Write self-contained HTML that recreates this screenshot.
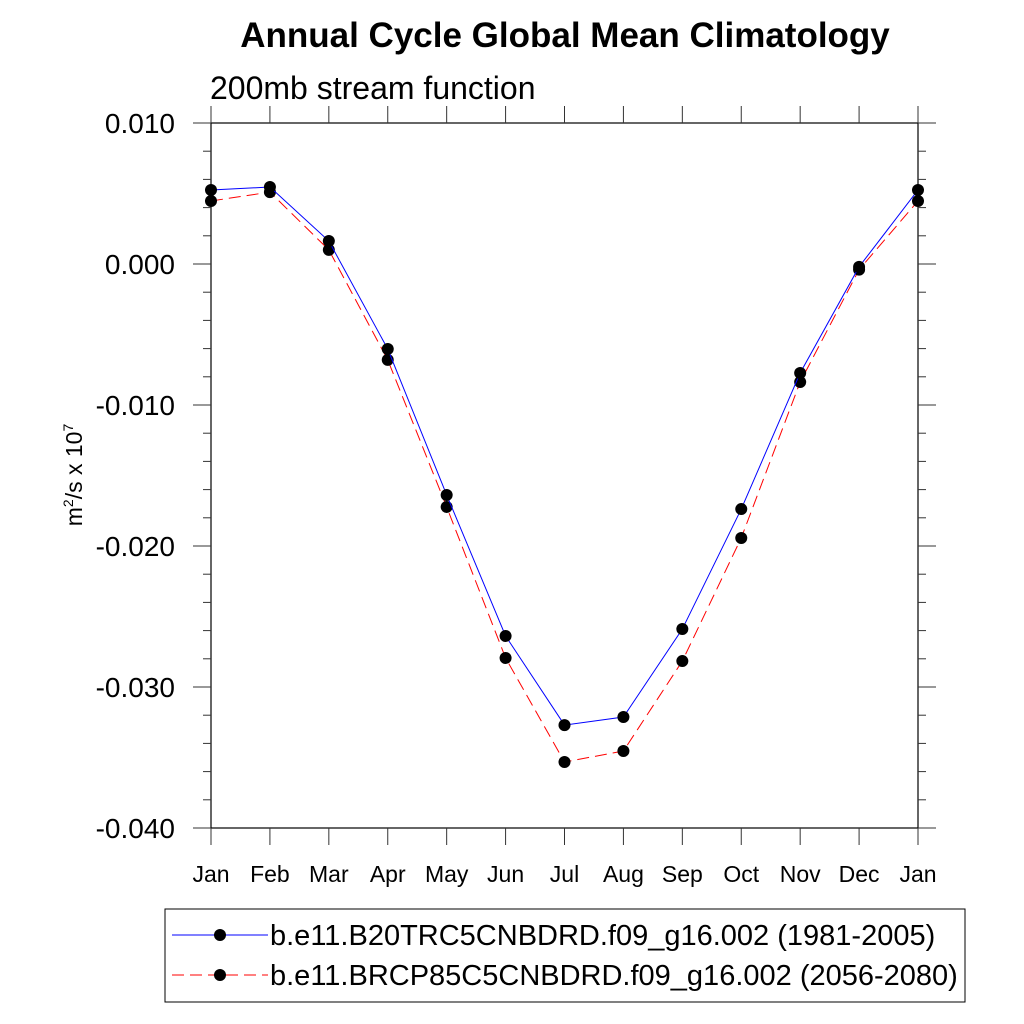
<!DOCTYPE html>
<html><head><meta charset="utf-8"><style>body{margin:0;background:#fff}svg{display:block;font-family:"Liberation Sans",sans-serif}</style></head>
<body>
<svg id="chart" width="1024" height="1024" viewBox="0 0 1024 1024">
<text x="565" y="47" text-anchor="middle" font-size="35" font-weight="bold">Annual Cycle Global Mean Climatology</text>
<text x="210" y="99" font-size="32">200mb stream function</text>
<text transform="translate(82,475) rotate(-90)" text-anchor="middle" font-size="23">m<tspan dy="-9" font-size="14">2</tspan><tspan dy="9">/s x 10</tspan><tspan dy="-9" font-size="14">7</tspan></text>
<g id="axes"></g>
<g id="series"></g>
<rect x="165" y="909" width="800" height="93" fill="none" stroke="#000" stroke-width="1"/>
<line x1="172" y1="935" x2="268" y2="935" stroke="#00f" stroke-width="1"/>
<circle cx="220" cy="935" r="6"/>
<text x="270" y="945" font-size="29">b.e11.B20TRC5CNBDRD.f09_g16.002 (1981-2005)</text>
<line x1="172" y1="975" x2="268" y2="975" stroke="#f00" stroke-width="1" stroke-dasharray="12,6"/>
<circle cx="220" cy="975" r="6"/>
<text x="270" y="985" font-size="29">b.e11.BRCP85C5CNBDRD.f09_g16.002 (2056-2080)</text>
</svg>
<script>
const months=["Jan","Feb","Mar","Apr","May","Jun","Jul","Aug","Sep","Oct","Nov","Dec","Jan"];
const histValues=[0.00525,0.00546,0.00163,-0.00603,-0.01638,-0.02638,-0.0327,-0.03213,-0.02589,-0.01738,-0.00773,-0.0002,0.00525];
const rcpValues=[0.00447,0.0051,0.0010,-0.0068,-0.01723,-0.02794,-0.03532,-0.03454,-0.02816,-0.01943,-0.00837,-0.0004,0.00447];
const yTicks=[0.010,0.000,-0.010,-0.020,-0.030,-0.040];
const yTickLabels=["0.010","0.000","-0.010","-0.020","-0.030","-0.040"];
const X0=211,X1=918,Y0=123,Y1=828,ymax=0.010,ymin=-0.040;
const NS="http://www.w3.org/2000/svg";
const xs=i=>X0+(X1-X0)*i/(months.length-1);
const ys=v=>Y0+(ymax-v)/(ymax-ymin)*(Y1-Y0);
function mk(tag,at,parent){const e=document.createElementNS(NS,tag);for(const k in at)e.setAttribute(k,at[k]);parent.appendChild(e);return e;}
const ax=document.getElementById('axes'),sr=document.getElementById('series');
const frame=mk('rect',{x:X0,y:Y0,width:X1-X0,height:Y1-Y0,fill:'none',stroke:'#000','stroke-width':1.2},ax);


for(let v=ymax;v>=ymin-1e-9;v-=0.002){
  const y=ys(v),maj=Math.abs(Math.round(v*1000)%10)===0;const L=maj?18:8;
  const t1=mk('line',{x1:X0-L,y1:y,x2:X0,y2:y,stroke:'#333','stroke-width':1},ax);
  
  
  const t2=mk('line',{x1:X1,y1:y,x2:X1+L,y2:y,stroke:'#333','stroke-width':1},ax);
  
  
}
yTicks.forEach((v,i)=>{const t=mk('text',{x:X0-36,y:ys(v)+10,'text-anchor':'end','font-size':28},ax);t.textContent=yTickLabels[i];
  
  });
months.forEach((m,i)=>{const x=xs(i);
  const a=mk('line',{x1:x,y1:Y1,x2:x,y2:Y1+17,stroke:'#333','stroke-width':1},ax);
  
  
  const b=mk('line',{x1:x,y1:Y0-17,x2:x,y2:Y0,stroke:'#333','stroke-width':1},ax);
  
  
  const t=mk('text',{x:x,y:882,'text-anchor':'middle','font-size':23},ax);t.textContent=m;
  
  });
function drawSeries(vals,color,dash,name){
  const pts=vals.map((v,i)=>xs(i)+','+ys(v)).join(' ');
  const pl=mk('polyline',{points:pts,fill:'none',stroke:color,'stroke-width':1,'stroke-dasharray':dash},sr);
  
  
  vals.forEach((v,i)=>{const c=mk('circle',{cx:xs(i),cy:ys(v),r:6,fill:'#000'},sr);
    
    });
}
drawSeries(rcpValues,'#f00','12,6','rcp85-series');
drawSeries(histValues,'#00f','none','historical-series');
</script>
</body></html>
